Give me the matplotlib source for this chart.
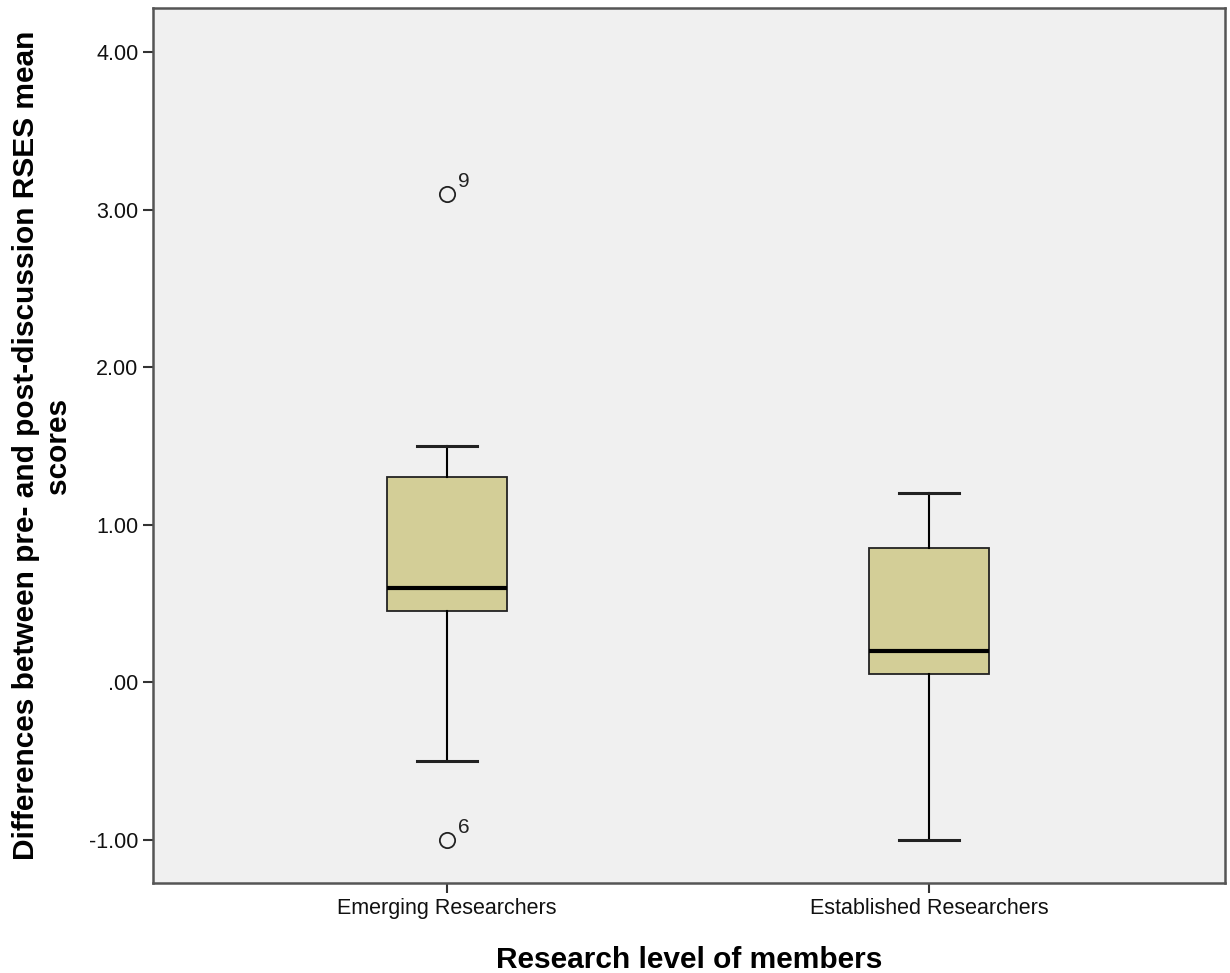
import numpy as np
import matplotlib
matplotlib.use("Agg")
from matplotlib import pyplot as plt

plt.rcParams['font.family'] = ['Liberation Sans', 'DejaVu Sans']

# summary statistics of the score differences per group
groups = ["Emerging Researchers", "Established Researchers"]
q1 = [0.45, 0.05]
medians = [0.60, 0.20]
q3 = [1.30, 0.85]
whis_lo = [-0.50, -1.00]
whis_hi = [1.50, 1.20]
# outliers: (group index, value, case number)
outlier_group = [0, 0]
outlier_value = [3.10, -1.00]
outlier_case = ["9", "6"]

yticks = [-1.0, 0.0, 1.0, 2.0, 3.0, 4.0]
ytick_labels = ["-1.00", ".00", "1.00", "2.00", "3.00", "4.00"]

stats = []
for i, name in enumerate(groups):
    fl = [v for g, v in zip(outlier_group, outlier_value) if g == i]
    stats.append(dict(label=name, q1=q1[i], med=medians[i], q3=q3[i],
                      whislo=whis_lo[i], whishi=whis_hi[i], fliers=fl))

fig = plt.figure(figsize=(12.3, 9.73), dpi=100)
ax = fig.add_axes([0.1244, 0.0925, 0.8716, 0.8993])
ax.set_facecolor('#f0f0f0')

positions = [1, 2]
ax.bxp(stats, positions=positions, widths=0.25, patch_artist=True,
       boxprops=dict(facecolor='#d3ce97', edgecolor='#222222', linewidth=1.3),
       medianprops=dict(color='black', linewidth=3),
       whiskerprops=dict(color='black', linewidth=1.5),
       capprops=dict(color='#222222', linewidth=2.2),
       capwidths=0.125,
       flierprops=dict(marker='o', markersize=11, markerfacecolor='none',
                       markeredgecolor='#222222', markeredgewidth=1.3))

for g, v, c in zip(outlier_group, outlier_value, outlier_case):
    ax.annotate(c, (positions[g], v), xytext=(8, 5), textcoords='offset points',
                fontsize=15, color='#222222')

ax.set_xlim(0.39, 2.614)
ax.set_ylim(-1.276, 4.28)
ax.set_yticks(yticks)
ax.set_yticklabels(ytick_labels)
ax.set_xticks(positions)
ax.set_xticklabels(groups)
ax.tick_params(axis='both', labelsize=15.5, length=7, width=1.5, color='#333333',
               labelcolor='#111111')

for s in ax.spines.values():
    s.set_color('#555555')
    s.set_linewidth(1.8)

ax.set_xlabel("Research level of members", fontsize=21.5, fontweight='bold', labelpad=20)
ax.set_ylabel("Differences between pre- and post-discussion RSES mean\nscores",
              fontsize=21.5, fontweight='bold', labelpad=12)

fig.savefig("out.png", dpi=100)
